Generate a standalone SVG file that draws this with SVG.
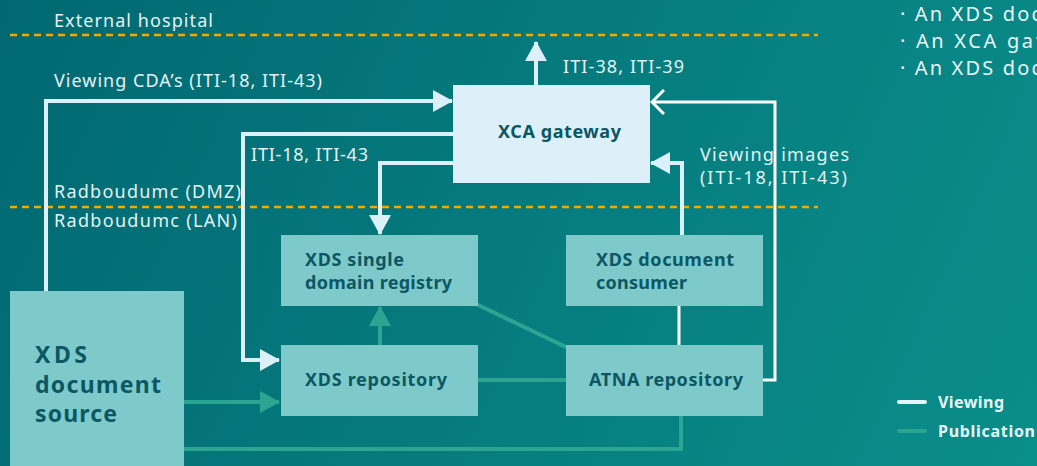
<svg xmlns="http://www.w3.org/2000/svg" width="1037" height="466" viewBox="0 0 1037 466">
  <defs>
    <linearGradient id="bg" x1="0" y1="0" x2="1037" y2="466" gradientUnits="userSpaceOnUse">
      <stop offset="0" stop-color="#016871"/>
      <stop offset="1" stop-color="#0a8e8a"/>
    </linearGradient>
    <marker id="headView" viewBox="0 0 20 22" refX="19" refY="11" markerWidth="20" markerHeight="22" markerUnits="userSpaceOnUse" orient="auto">
      <path d="M0 0 L20 11 L0 22 Z" fill="#dcf0fa"/>
    </marker>
    <marker id="headPub" viewBox="0 0 20 22" refX="19" refY="11" markerWidth="20" markerHeight="22" markerUnits="userSpaceOnUse" orient="auto">
      <path d="M0 0 L20 11 L0 22 Z" fill="#2ba592"/>
    </marker>
    <marker id="headOpen" viewBox="0 0 15 26" refX="13" refY="13" markerWidth="15" markerHeight="26" markerUnits="userSpaceOnUse" orient="auto">
      <path d="M1 1 L13 13 L1 25" fill="none" stroke="#ffffff" stroke-width="3"/>
    </marker>
    <style>
      .lbl { font-family: "Noto Sans", "Open Sans", sans-serif; font-size: 18px; fill: #e2f2f4; }
      .side { font-family: "Noto Sans", "Open Sans", sans-serif; font-size: 20px; fill: #e8f6f6; }
      .box { fill: #7ecaca; }
      .gw { fill: #ddeff9; }
      .btxt { font-family: "Noto Sans", "Open Sans", sans-serif; font-size: 18px; font-weight: bold; fill: #0b5763; }
      .big { font-family: "Noto Sans", "Open Sans", sans-serif; font-size: 23px; font-weight: bold; fill: #0b5763; }
      .zone { stroke: #f2a900; stroke-width: 2.5; stroke-dasharray: 7 5; fill: none; }
      .view { stroke: #dcf0fa; stroke-width: 4; fill: none; }
      .thin { stroke: #ffffff; stroke-width: 3; fill: none; }
      .pub { stroke: #2ba592; stroke-width: 4; fill: none; }
      .leg { font-family: "Noto Sans", "Open Sans", sans-serif; font-size: 16px; font-weight: bold; fill: #e8f6f6; }
    </style>
  </defs>

  <rect width="1037" height="466" fill="url(#bg)"/>

  <!-- zone boundaries -->
  <g id="zones">
    <line class="zone" x1="10" y1="35" x2="818" y2="35"/>
    <line class="zone" x1="10" y1="207" x2="818" y2="207"/>
    <text class="lbl" x="54" y="27" textLength="159" lengthAdjust="spacing">External hospital</text>
    <text class="lbl" x="54" y="198" textLength="187" lengthAdjust="spacing">Radboudumc (DMZ)</text>
    <text class="lbl" x="54" y="227" textLength="183" lengthAdjust="spacing">Radboudumc (LAN)</text>
  </g>

  <!-- connectors -->
  <g id="connectors">
    <!-- viewing -->
    <path class="view" d="M46 291 V101 H452" marker-end="url(#headView)"/>
    <path class="view" d="M453 134 H243 V360 H279" marker-end="url(#headView)"/>
    <path class="view" d="M453 163 H380 V234" marker-end="url(#headView)"/>
    <path class="view" d="M536 85 V42" marker-end="url(#headView)"/>
    <path class="view" d="M682 235 V163 H651" marker-end="url(#headView)"/>
    <path class="thin" d="M763 380 H775 V102 H652" marker-end="url(#headOpen)"/>
    <line class="thin" x1="679" y1="306" x2="679" y2="345"/>
    <!-- publication -->
    <path class="pub" d="M380 345 V307" marker-end="url(#headPub)"/>
    <path class="pub" d="M184 402 H279" marker-end="url(#headPub)"/>
    <path class="pub" d="M184 449 H681 V416"/>
    <line class="pub" x1="478" y1="380" x2="566" y2="380"/>
    <line class="pub" x1="474" y1="303" x2="568" y2="348"/>
    <!-- connector labels -->
    <text class="lbl" x="54" y="87" textLength="268" lengthAdjust="spacing">Viewing CDA’s (ITI-18, ITI-43)</text>
    <text class="lbl" x="251" y="161" textLength="117" lengthAdjust="spacing">ITI-18, ITI-43</text>
    <text class="lbl" x="563" y="73" textLength="121" lengthAdjust="spacing">ITI-38, ITI-39</text>
    <text class="lbl" x="700" y="161" textLength="149" lengthAdjust="spacing">Viewing  images</text>
    <text class="lbl" x="700" y="184" textLength="147" lengthAdjust="spacing">(ITI-18,   ITI-43)</text>
  </g>

  <g id="xca-gateway">
    <rect class="gw" x="453" y="85" width="197" height="98"/>
    <text class="btxt" x="498" y="138" textLength="123" lengthAdjust="spacing">XCA gateway</text>
  </g>

  <g id="xds-registry">
    <rect class="box" x="281" y="235" width="197" height="71"/>
    <text class="btxt" x="305" y="266" textLength="99" lengthAdjust="spacing">XDS single</text>
    <text class="btxt" x="305" y="289" textLength="147" lengthAdjust="spacing">domain registry</text>
  </g>

  <g id="xds-repository">
    <rect class="box" x="281" y="345" width="197" height="71"/>
    <text class="btxt" x="305" y="386" textLength="142" lengthAdjust="spacing">XDS repository</text>
  </g>

  <g id="xds-consumer">
    <rect class="box" x="566" y="235" width="197" height="71"/>
    <text class="btxt" x="596" y="266" textLength="138" lengthAdjust="spacing">XDS document</text>
    <text class="btxt" x="596" y="289" textLength="91" lengthAdjust="spacing">consumer</text>
  </g>

  <g id="atna-repository">
    <rect class="box" x="566" y="345" width="197" height="71"/>
    <text class="btxt" x="589" y="386" textLength="154" lengthAdjust="spacing">ATNA repository</text>
  </g>

  <g id="xds-source">
    <rect class="box" x="10" y="291" width="174" height="180"/>
    <text class="big" x="35" y="363" textLength="52" lengthAdjust="spacing">XDS</text>
    <text class="big" x="35" y="393" textLength="126" lengthAdjust="spacing">document</text>
    <text class="big" x="35" y="422" textLength="82" lengthAdjust="spacing">source</text>
  </g>

  <!-- side notes, running off the right edge -->
  <g id="notes">
    <text class="side" x="900" y="21" textLength="141" lengthAdjust="spacing">· An XDS doc</text>
    <text class="side" x="900" y="48" textLength="143" lengthAdjust="spacing">· An XCA gat</text>
    <text class="side" x="900" y="75" textLength="141" lengthAdjust="spacing">· An XDS doc</text>
  </g>

  <g id="legend">
    <line x1="899" y1="402" x2="925" y2="402" stroke="#e6f5fa" stroke-width="4" stroke-linecap="round"/>
    <line x1="899" y1="431" x2="925" y2="431" stroke="#2ba592" stroke-width="4" stroke-linecap="round"/>
    <text class="leg" x="938" y="408" textLength="66" lengthAdjust="spacing">Viewing</text>
    <text class="leg" x="938" y="437" textLength="97" lengthAdjust="spacing">Publication</text>
  </g>
</svg>
